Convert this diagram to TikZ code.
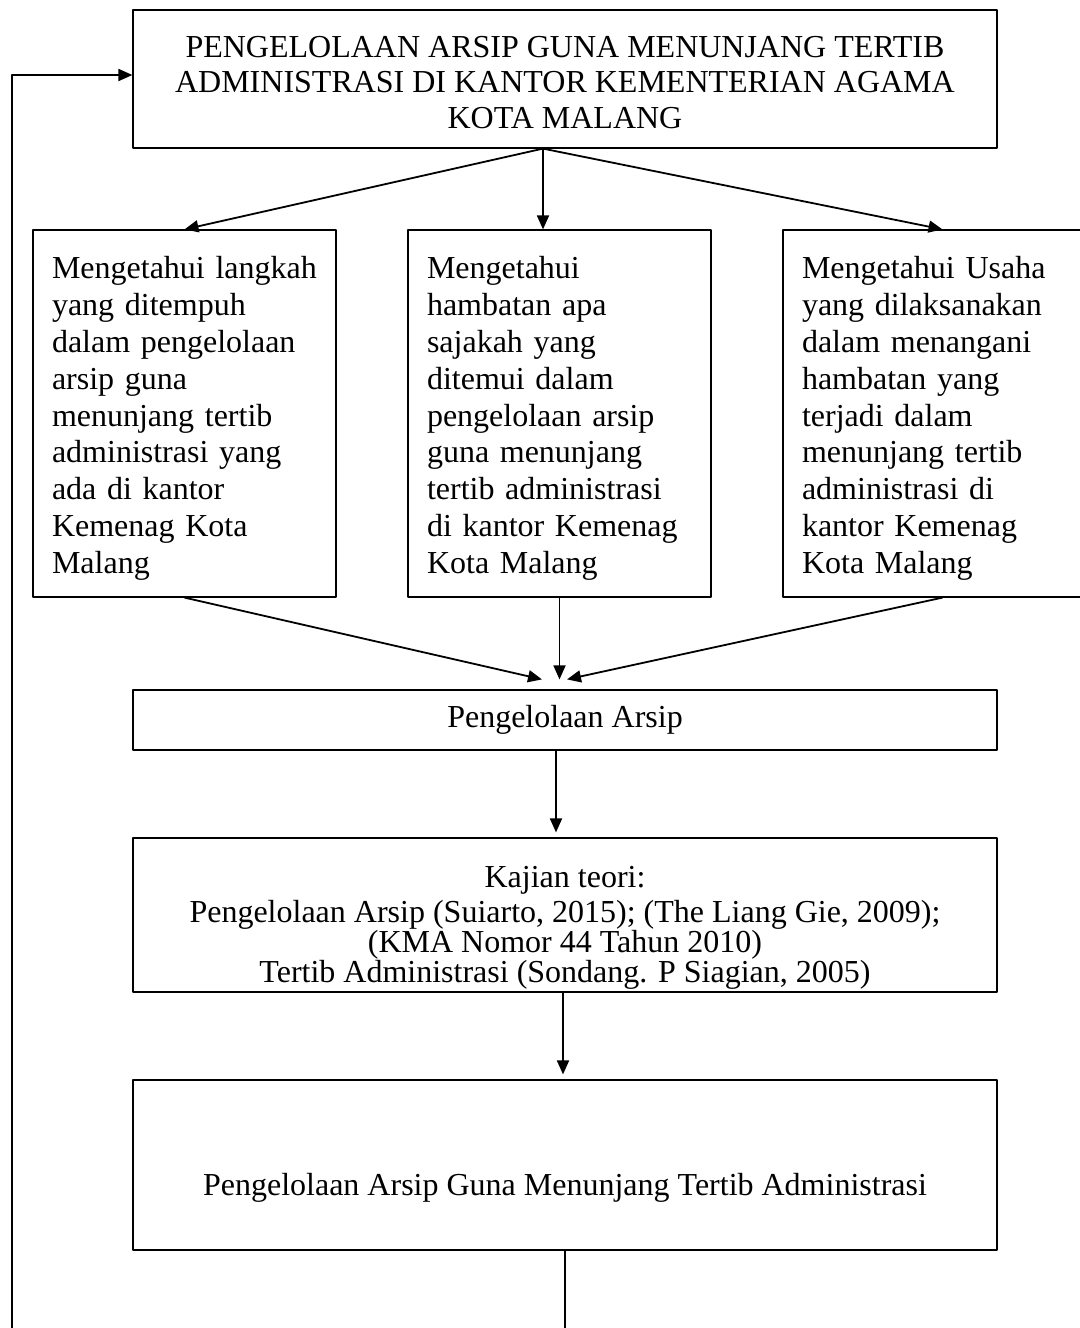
\documentclass[tikz,border=0pt]{standalone}
\usepackage{fontspec}
\setmainfont{Liberation Serif}
\usetikzlibrary{arrows.meta}
\newcommand\tightlines{\fontsize{16}{15}\selectfont}
\newcommand\lowfirst{\rule{0pt}{16pt}}

\begin{document}
\begin{tikzpicture}[x=1pt, y=1pt, line join=round,
    box/.style={draw, line width=0.6pt, inner sep=0pt, align=center,
      font=\fontsize{16}{18.4}\selectfont},
    wide/.style={box, minimum width=432pt},
    col/.style={box, minimum height=183.5pt, text width=132.5pt,
      inner xsep=9.5pt, align=left},
    link/.style={line width=0.9pt, -{Triangle[length=7pt,width=6pt]}}]
  \useasboundingbox (0,0) rectangle (540,-664);
  \node[wide, minimum height=69pt, font=\fontsize{16}{17.7}\selectfont] (top) at (282.5,-39.5)
    {\rule{0pt}{14pt}PENGELOLAAN ARSIP GUNA MENUNJANG TERTIB\\ADMINISTRASI DI KANTOR KEMENTERIAN AGAMA\\KOTA MALANG};
  \node[col] (c1) at (92.25,-206.75)
    {\lowfirst Mengetahui langkah\\yang ditempuh\\dalam pengelolaan\\arsip guna\\menunjang tertib\\administrasi yang\\ada di kantor\\Kemenag Kota\\Malang};
  \node[col] (c2) at (279.75,-206.75)
    {\lowfirst Mengetahui\\hambatan apa\\sajakah yang\\ditemui dalam\\pengelolaan arsip\\guna menunjang\\tertib administrasi\\di kantor Kemenag\\Kota Malang};
  \node[col] (c3) at (467.25,-206.75)
    {\lowfirst Mengetahui Usaha\\yang dilaksanakan\\dalam menangani\\hambatan yang\\terjadi dalam\\menunjang tertib\\administrasi di\\kantor Kemenag\\Kota Malang};
  \node[wide, minimum height=30pt] (arsip) at (282.5,-360) {Pengelolaan Arsip};
  \node[wide, minimum height=77pt, font=\tightlines] (kajian) at (282.5,-457.5)
    {\rule{0pt}{23.9pt}Kajian teori:\\[2.5pt]Pengelolaan Arsip (Suiarto, 2015); (The Liang Gie, 2009);\\(KMA Nomor 44 Tahun 2010)\\Tertib Administrasi (Sondang. P Siagian, 2005)};
  \node[wide, text height=57.5pt, text depth=27.5pt] (final) at (282.5,-582.5)
    {Pengelolaan Arsip Guna Menunjang Tertib Administrasi};

  \coordinate (split) at ([xshift=-11pt]top.south);
  \coordinate (merge) at ([xshift=-4.5pt,yshift=5pt]arsip.north);
  \coordinate (loop) at (6,-670);
  \draw[link] (split) -- (c1.north);
  \draw[link] (split) -- (split |- c2.north);
  \draw[link] (split) -- ([xshift=4pt]c3.north);
  \draw[link] (c1.south) -- ([xshift=-7pt]merge);
  \draw[link] (c2.south) -- (c2.south |- merge);
  \draw[link] ([xshift=4pt]c3.south) -- ([xshift=5.5pt]merge);
  \draw[link, shorten >=2.5pt] ([xshift=-4.5pt]arsip.south) -- ([xshift=-4.5pt]kajian.north);
  \draw[link, shorten >=2.5pt] ([xshift=-1pt]kajian.south) -- ([xshift=-1pt]final.north);
  \draw[link] (final.south) |- (loop) |- ([yshift=2pt]top.west);
\end{tikzpicture}
\end{document}
